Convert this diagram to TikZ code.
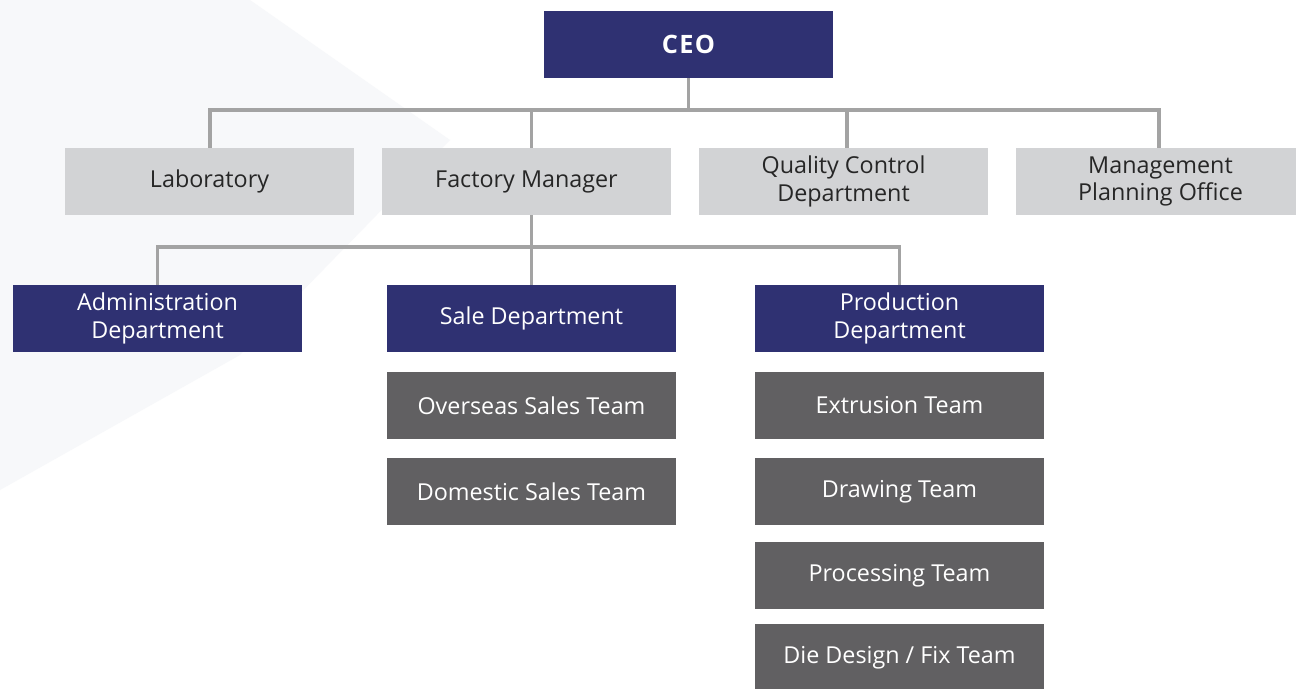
\documentclass[tikz,border=0pt]{standalone}
\usepackage{fontspec}
\setmainfont{Open Sans}
\definecolor{navy}{HTML}{2F3172}
\definecolor{lightbox}{HTML}{D2D3D5}
\definecolor{darkbox}{HTML}{616062}
\definecolor{linkgray}{HTML}{A3A3A3}
\definecolor{bgshade}{HTML}{F7F8FA}
\begin{document}
\begin{tikzpicture}[x=0.75pt,y=-0.75pt,
  box/.style={rectangle, inner sep=0pt, minimum width=216.75pt, minimum height=50.25pt,
    align=center, font=\fontsize{17.5pt}{20.5pt}\selectfont},
  headbox/.style={box, fill=navy, text=white, font=\fontsize{19pt}{22pt}\selectfont\bfseries},
  upperbox/.style={box, fill=lightbox, text=black!85},
  deptbox/.style={box, fill=navy, text=white},
  teambox/.style={box, fill=darkbox, text=white},
  link/.style={draw=linkgray, line width=2.4pt}]
\useasboundingbox (0,0) rectangle (1296,689);
\fill[white] (0,0) rectangle (1296,689);
% faint background facet
\fill[bgshade] (0,0) -- (250,0) -- (450,140) -- (240,355) -- (0,490) -- cycle;

% top
\node[headbox] (ceo) at (688.5,44.5) {C\kern1ptE\kern1ptO};

% second row
\node[upperbox] (lab) at (209.5,181.5) {Laboratory};
\node[upperbox] (fm)  at (526.5,181.5) {Factory Manager};
\node[upperbox] (qc)  at (843.5,181.5) {Quality Control\\Department};
\node[upperbox] (mpo) at (1160.5,181.5) {Management\\Planning Office};

% departments
\node[deptbox] (adm)  at (157.5,318.5) {Administration\\Department};
\node[deptbox] (sale) at (531.5,318.5) {Sale Department};
\node[deptbox] (prod) at (899.5,318.5) {Production\\Department};

% teams
\node[teambox] (over) at (531.5,405.5) {Overseas Sales Team};
\node[teambox] (dom)  at (531.5,491.5) {Domestic Sales Team};
\node[teambox] (ext)  at (899.5,405.5) {Extrusion Team};
\node[teambox] (drw)  at (899.5,491.5) {Drawing Team};
\node[teambox] (proc) at (899.5,575.5) {Processing Team};
\node[teambox] (die)  at (899.5,657.5) {Die Design / Fix Team};

% connectors
\coordinate (bus1) at (688.5,110);
\coordinate (bus2) at (531.5,247);
\path[link] (ceo.south) -- (bus1);
\path[link] (lab.north -| 210,0) |- (bus1) -| (mpo.north -| 1159,0);
\path[link] (fm.north -| 531.5,0) -- (bus1 -| 531.5,0);
\path[link] (qc.north -| 847,0) -- (bus1 -| 847,0);
\path[link] (fm.south -| bus2) -- (bus2);
\path[link] (adm.north) |- (bus2) -| (prod.north);
\path[link] (sale.north) -- (bus2);
\end{tikzpicture}
\end{document}
